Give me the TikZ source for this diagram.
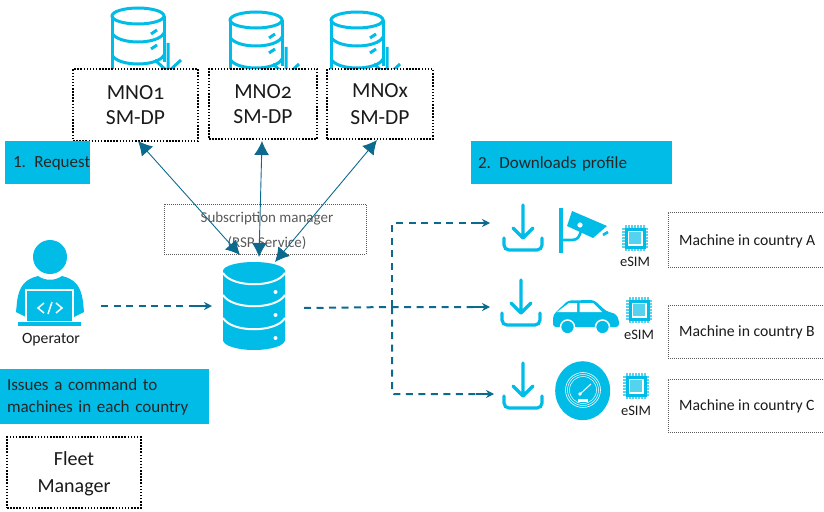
\documentclass[tikz,border=0pt]{standalone}
\usepackage{fontspec}
\setmainfont{Carlito}
\newfontfamily\onumfont[Numbers=OldStyle]{Carlito}
\usetikzlibrary{calc,arrows.meta,positioning}
\definecolor{IconBlue}{HTML}{00BCE6}
\definecolor{PinBlue}{HTML}{55D2EE}
\definecolor{ArrowBlue}{HTML}{0B6A8D}
\definecolor{TextDark}{HTML}{1A1A1A}
\tikzstyle{dotted_box}=[rectangle,
        draw=black,
        line width=1.3pt,
        dash pattern=on 1.5pt off 1.6pt,
        fill=white,
        text=TextDark,
        align=center,
        inner sep=0pt,
        font=\onumfont\fontsize{21.5}{25}\selectfont]
\tikzstyle{machine_box}=[rectangle,
        draw=black!65,
        line width=0.7pt,
        dash pattern=on 1pt off 1pt,
        inner sep=0pt]
\tikzstyle{cyan_box}=[rectangle,
        fill=IconBlue,
        text=black!85,
        align=left,
        inner sep=0pt,
        font=\fontsize{17}{22}\selectfont]
\tikzstyle{small_label}=[text=TextDark,
        inner sep=0pt,
        font=\fontsize{14.5}{17}\selectfont]
\tikzstyle{machine_label}=[text=TextDark,
        inner sep=0pt,
        anchor=west,
        font=\fontsize{15.7}{18}\selectfont]
\tikzstyle{mno_arrow}=[{Latex[length=14pt,width=15pt]}-{Latex[length=14pt,width=15pt]},
        draw=ArrowBlue,
        line width=0.9pt]
\tikzstyle{dash_line}=[draw=ArrowBlue,
        line width=2pt,
        dash pattern=on 7pt off 5.5pt]
\tikzstyle{tip_line}=[-{Stealth[length=8pt,width=8pt]},
        draw=ArrowBlue,
        line width=2pt]
\tikzset{
    pics/dbicon/.style={code={
        \draw[IconBlue, line width=3pt] (0,-36) ellipse (26 and 8);
        \draw[IconBlue, line width=3pt] (-26,-36) -- (-26,18) (26,-36) -- (26,10);
        \draw[IconBlue, line width=3pt] (-26,-19) .. controls (-20,-7) and (20,-7) .. (26,-19);
        \draw[IconBlue, line width=3pt] (-26,3) .. controls (-20,15) and (20,15) .. (26,3);
        \draw[IconBlue, line width=3pt] (13,-18) -- (19,-22) (13,-3) -- (19,-7);
        \draw[IconBlue, line width=3pt] (30,-9) -- (30,18) (17,8) -- (30,20) -- (43,8);
    }},
    pics/dliconshape/.style={code={
        \draw[IconBlue, line width=3.2pt, line cap=round, line join=round] (0,-24) -- (0,9) (-10,-1) -- (0,9) (10,-1) -- (0,9);
        \draw[IconBlue, line width=3.2pt, line cap=round, rounded corners=5pt] (-19,9) -- (-19,21) -- (19,21) -- (19,9);
    }},
    pics/chipicon/.style={code={
        \foreach \la in {-9,-6,...,9} {
            \draw[PinBlue, line width=1.1pt] (\la,-13) -- (\la,13);
            \draw[PinBlue, line width=1.1pt] (-13,\la) -- (13,\la);
        }
        \fill[IconBlue] (-10.5,-10.5) rectangle (10.5,10.5);
        \fill[white] (-7.5,-7.5) rectangle (7.5,7.5);
        \fill[PinBlue] (-6,-6) rectangle (6,6);
    }}
}

\begin{document}
\begin{tikzpicture}[x=1pt,y=-1pt]
    \useasboundingbox (0,0) rectangle (824,511);

    % mno databases
    \pic at (138,52) {dbicon};
    \pic at (256,56) {dbicon};
    \pic at (357,56) {dbicon};

    \node at (135.5,105) (mno1) [dotted_box, minimum width=125pt, minimum height=72pt] {MNO1\\SM-DP};
    \node at (263,104) (mno2) [dotted_box, minimum width=108pt, minimum height=70pt] {MNO2\\SM-DP};
    \node at (380,104) (mnox) [dotted_box, minimum width=106pt, minimum height=70pt, font=\onumfont\fontsize{21.5}{27}\selectfont] {MNOx\\SM-DP};

    \node at (47.5,162.5) (request) [cyan_box, minimum width=85pt, minimum height=43pt, text width=69pt, text depth=0pt] {\mbox{1. Request}};
    \node at (571.5,162.5) (downloads) [cyan_box, minimum width=201pt, minimum height=43pt, text width=187pt, text depth=0pt] {2. Downloads profile};
    \node at (104.5,396.5) (issues) [cyan_box, minimum width=209pt, minimum height=55pt, text width=195pt] {Issues a command to\\machines in each country};
    \node at (74,472.5) (fleet) [dotted_box, minimum width=134pt, minimum height=71pt, font=\fontsize{20}{27}\selectfont, text depth=0pt] {Fleet\\Manager};

    \node at (265,229) (rsp) [machine_box, minimum width=202pt, minimum height=50pt] {};
    \node at (267,231) (rsptext) [text=black!65, align=center, inner sep=0pt, font=\fontsize{15}{25}\selectfont] {Subscription manager\\(RSP Service)};

    % central database
    \fill[IconBlue] (223,270) -- (223,340) arc (180:0:31 and 10) -- (285,270) -- cycle;
    \fill[IconBlue] (254,271) ellipse (31 and 9);
    \draw[white, line width=2pt] (223,273) .. controls (232,288) and (276,288) .. (285,273);
    \draw[white, line width=2pt] (223,295) .. controls (232,310) and (276,310) .. (285,295);
    \draw[white, line width=2pt] (223,318) .. controls (232,333) and (276,333) .. (285,318);
    \foreach \ly in {292,315,338} {
        \fill[white] (275.5,\ly) circle (2);
    }
    \node at (254,306) (db) [minimum width=62pt, minimum height=88pt, inner sep=0pt] {};

    % operator
    \fill[IconBlue] (50,257) circle (17);
    \fill[IconBlue] (17,302) .. controls (19,285) and (26,279) .. (38,276) .. controls (45,281) and (55,281) .. (62,276) .. controls (74,279) and (81,285) .. (83,302) -- (84,312) -- (74,317) -- (26,317) -- (16,312) -- cycle;
    \draw[white, line width=1.1pt, fill=IconBlue] (26,321) -- (26,290) -- (73,290) -- (73,321);
    \fill[IconBlue] (18,322) rectangle (81,326);
    \draw[white, line width=1.5pt] (44,303) -- (38,308) -- (44,313) (56,303) -- (62,308) -- (56,313) (52,302) -- (48,314);
    \node at (51,340) (operator) [small_label, font=\fontsize{15.7}{18}\selectfont] {Operator};

    % download icons
    \pic at (523,229) {dliconshape};
    \pic at (521,304) {dliconshape};
    \pic at (523,387) {dliconshape};

    % camera
    \draw[IconBlue, line width=3.6pt] (561,208) -- (561,253);
    \draw[IconBlue, line width=2.6pt] (561,240) -- (572,240) .. controls (578,240) and (580,236) .. (581,230);
    \fill[IconBlue] (572,211) -- (607,226) -- (593,238) -- (567,226) -- cycle;
    \fill[white] (580,225) circle (2.6);
    \draw[IconBlue, line width=2.6pt] (603,235) -- (608,232);

    % car
    \fill[IconBlue, rounded corners=3pt] (553,327) -- (553,316) -- (556,312) -- (568,300.5) -- (594,300) -- (606,311) -- (616,314) -- (619,320) -- (619,327) -- cycle;
    \fill[white] (557,312) -- (577,312) -- (577,303) -- (569,303) -- cycle;
    \fill[white] (579.5,303) -- (593,303) -- (602,312) -- (579.5,312) -- cycle;
    \draw[white, fill=IconBlue, line width=1.5pt] (567.5,327) circle (7);
    \draw[white, fill=IconBlue, line width=1.5pt] (602.5,327) circle (7);

    % gauge
    \fill[IconBlue] (582.7,390.7) ellipse (27.5 and 29.5);
    \draw[white, line width=0.6pt] (583,390) circle (17.5);
    \draw[white, line width=0.5pt] (583,390) circle (15.5);
    \draw[white, line width=0.5pt] (583,390) circle (13.5);
    \draw[white, line width=1pt] (580,394) -- (591,384);
    \fill[white] (580,394) circle (1.8);
    \fill[white] (578,399) rectangle (588,402);

    % esim chips
    \pic at (635,238) {chipicon};
    \pic at (639,310) {chipicon};
    \pic at (636,386) {chipicon};
    \node at (635,262) (esima) [small_label] {eSIM};
    \node at (639,335) (esimb) [small_label] {eSIM};
    \node at (636,411) (esimc) [small_label] {eSIM};

    \node at (746.5,239.5) (machinea) [machine_box, minimum width=157pt, minimum height=55pt] {};
    \node at (746.5,331.5) (machineb) [machine_box, minimum width=157pt, minimum height=53pt] {};
    \node at (746.5,405.5) (machinec) [machine_box, minimum width=157pt, minimum height=53pt] {};
    \node at (679,241) (texta) [machine_label] {Machine in country A};
    \node at (679,332) (textb) [machine_label] {Machine in country B};
    \node at (679,406) (textc) [machine_label] {Machine in country C};

    % arrows to and from the database
    \coordinate (m1end) at (138,141);
    \coordinate (m2end) at (262,141);
    \coordinate (mxend) at (377,140);
    \coordinate (d1end) at (240,255);
    \coordinate (d2end) at (259,257);
    \coordinate (d3end) at (275,262);
    \draw[mno_arrow] (m1end) -- (d1end);
    \draw[mno_arrow] (m2end) -- (d2end);
    \draw[mno_arrow] (mxend) -- (d3end);

    \coordinate (opout) at (101,306);
    \coordinate (dbin) at (212,306);
    \coordinate (dbout) at (304,308);
    \coordinate (fork) at (392,307);
    \coordinate (dla) at (490,223);
    \coordinate (dlb) at (490,307);
    \coordinate (dlc) at (494,394);
    \draw[dash_line] (opout) -- ($(dbin)+(-16,0)$);
    \draw[dash_line] (dbout) -- (fork) -- ($(dlb)+(-16,0)$);
    \draw[dash_line, rounded corners=2pt] (fork) |- ($(dla)+(-16,0)$);
    \draw[dash_line, rounded corners=2pt] (fork) |- ($(dlc)+(-16,0)$);
    \foreach \lend in {dbin,dla,dlb,dlc} {
        \draw[tip_line] ($(\lend)+(-18,0)$) -- (\lend);
    }
\end{tikzpicture}
\end{document}
